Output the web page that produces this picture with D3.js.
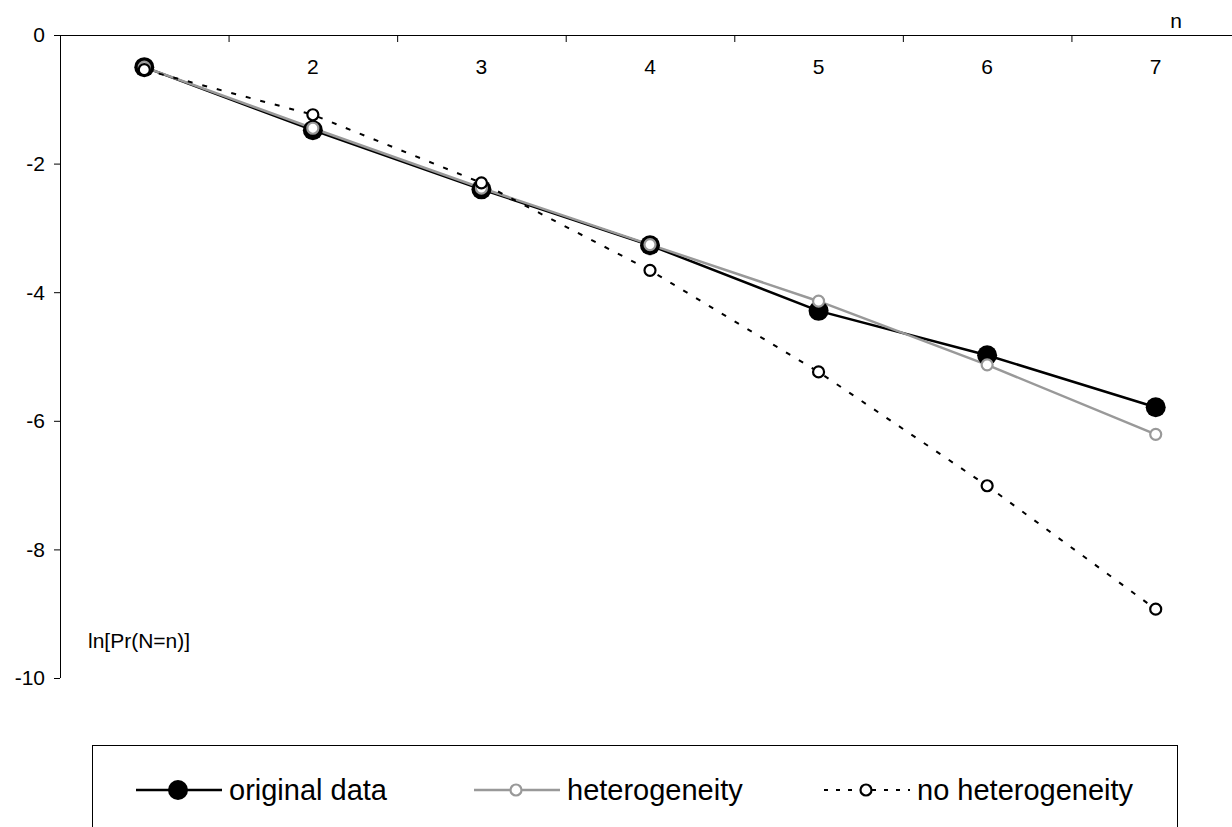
<!DOCTYPE html>
<html>
<head>
<meta charset="utf-8">
<script src="https://cdn.jsdelivr.net/npm/d3@7"></script>
<style>
  body { margin: 0; background: #fff; }
  svg { display: block; font-family: "Liberation Sans", Arial, sans-serif; }
</style>
</head>
<body>
<svg id="chart" width="1232" height="827"></svg>
<script>
const categories = [1, 2, 3, 4, 5, 6, 7];
const originalData = [-0.50, -1.48, -2.40, -3.27, -4.29, -4.98, -5.79];
const heterogeneity = [-0.50, -1.45, -2.38, -3.26, -4.14, -5.13, -6.21];
const noHeterogeneity = [-0.54, -1.24, -2.30, -3.66, -5.24, -7.01, -8.93];
const yTicks = [0, -2, -4, -6, -8, -10];

const svg = d3.select("#chart");

const x = d3.scaleBand().domain(categories).range([60, 1240]);
const y = d3.scaleLinear().domain([0, -10]).range([35, 678]);

// y axis
svg.append("line")
    .attr("x1", 60.5).attr("x2", 60.5)
    .attr("y1", y(0)).attr("y2", y(-10))
    .attr("stroke", "#000").attr("stroke-width", 1);
svg.selectAll(".ytick")
    .data(yTicks)
    .enter().append("line")
    .attr("x1", 54).attr("x2", 60)
    .attr("y1", d => y(d) + 0.5).attr("y2", d => y(d) + 0.5)
    .attr("stroke", "#000");
svg.selectAll(".ylab")
    .data(yTicks)
    .enter().append("text")
    .attr("x", 45).attr("y", d => y(d))
    .attr("dy", "0.35em")
    .attr("text-anchor", "end")
    .attr("font-size", 21)
    .text(d => d);

// x axis along y = 0
svg.append("line")
    .attr("x1", 60).attr("x2", 1232)
    .attr("y1", y(0) + 0.5).attr("y2", y(0) + 0.5)
    .attr("stroke", "#000");
svg.selectAll(".xtick")
    .data(categories)
    .enter().append("line")
    .attr("x1", d => x(d) + 0.5).attr("x2", d => x(d) + 0.5)
    .attr("y1", y(0)).attr("y2", y(0) + 7)
    .attr("stroke", "#000");
svg.selectAll(".xlab")
    .data(categories)
    .enter().append("text")
    .attr("x", d => x(d) + x.bandwidth() / 2)
    .attr("y", 74)
    .attr("text-anchor", "middle")
    .attr("font-size", 21)
    .text(d => d);

svg.append("text")
    .attr("x", 1176).attr("y", 28)
    .attr("text-anchor", "middle")
    .attr("font-size", 21)
    .text("n");
svg.append("text")
    .attr("x", 88).attr("y", 648)
    .attr("font-size", 21)
    .text("ln[Pr(N=n)]");

const cx = d => x(d) + x.bandwidth() / 2;
const line = d3.line().x((d, i) => cx(categories[i])).y(d => y(d));

const series = [
    { name: "original data", values: originalData, color: "#000", width: 2.5, dash: null, r: 10, fill: "#000", mstroke: 0 },
    { name: "heterogeneity", values: heterogeneity, color: "#999", width: 2.5, dash: null, r: 5.5, fill: "#fff", mstroke: 2.2 },
    { name: "no heterogeneity", values: noHeterogeneity, color: "#000", width: 2, dash: "5,10", r: 5.5, fill: "#fff", mstroke: 2.2 }
];

series.forEach(s => {
    svg.append("path")
        .attr("d", line(s.values))
        .attr("fill", "none")
        .attr("stroke", s.color)
        .attr("stroke-width", s.width)
        .attr("stroke-dasharray", s.dash);
});
series.forEach(s => {
    svg.append("g").selectAll("circle")
        .data(s.values)
        .enter().append("circle")
        .attr("cx", (d, i) => cx(categories[i]))
        .attr("cy", d => y(d))
        .attr("r", s.r)
        .attr("fill", s.fill)
        .attr("stroke", s.color)
        .attr("stroke-width", s.mstroke);
});

// legend
svg.append("rect")
    .attr("x", 92.5).attr("y", 745.5)
    .attr("width", 1085).attr("height", 100)
    .attr("fill", "none").attr("stroke", "#000");

const legendX = [136, 474, 824];
series.forEach((s, i) => {
    const g = svg.append("g").attr("transform", `translate(${legendX[i]},790)`);
    g.append("line")
        .attr("x1", 0).attr("x2", 86)
        .attr("stroke", s.color)
        .attr("stroke-width", s.width)
        .attr("stroke-dasharray", s.dash ? "4,8" : null);
    g.append("circle")
        .attr("cx", 42).attr("r", s.r)
        .attr("fill", s.fill)
        .attr("stroke", s.color)
        .attr("stroke-width", s.mstroke);
    g.append("text")
        .attr("x", 93).attr("dy", "0.35em")
        .attr("font-size", 29)
        .text(s.name);
});
</script>
</body>
</html>
